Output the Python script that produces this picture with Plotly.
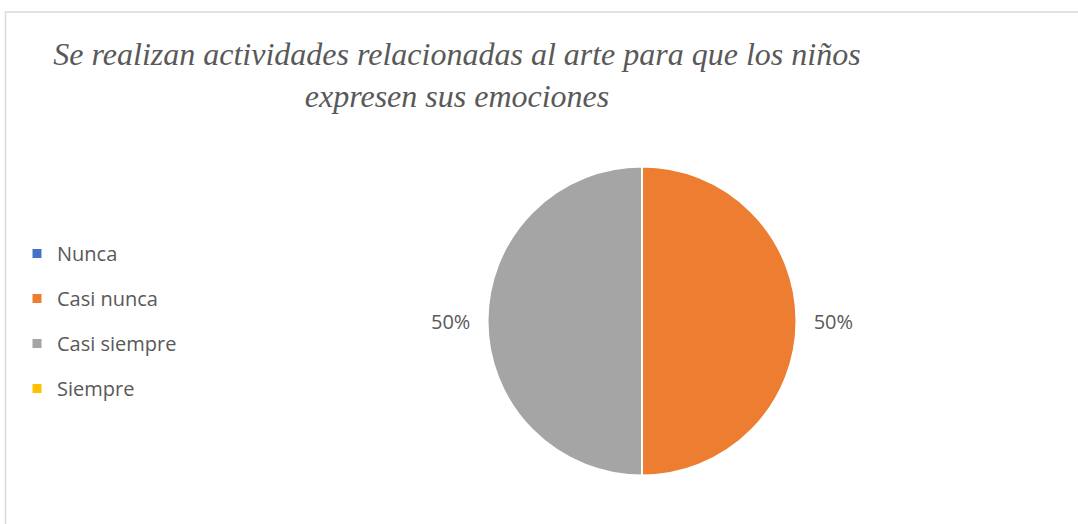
import plotly.graph_objects as go

categories = ["Nunca", "Casi nunca", "Casi siempre", "Siempre"]
values = [0, 50, 50, 0]
colors = ["#4472C4", "#ED7D31", "#A5A5A5", "#FFC000"]
title_text = ("Se realizan actividades relacionadas al arte para que los niños"
              "<br>expresen sus emociones")

W, H = 1078, 524
total = sum(values)
pad = "\u00a0\u00a0"
# percent labels; zero slices get no label, padding keeps labels off the pie edge
labels_text = []
for i, v in enumerate(values):
    if not v:
        labels_text.append("")
    else:
        pct = f"{v / total:.0%}"
        labels_text.append(pad + pct if i == 1 else pct + pad)

fig = go.Figure()

fig.add_trace(go.Pie(
    labels=categories,
    values=values,
    text=labels_text,
    textinfo="text",
    textposition="outside",
    sort=False,
    direction="clockwise",
    rotation=0,
    marker=dict(colors=colors, line=dict(color="white", width=2)),
    textfont=dict(family="Open Sans", size=20, color="#595959"),
    showlegend=False,
    domain=dict(x=[(642 - 154.5) / W, (642 + 154.5) / W],
                y=[(203 - 154.5) / H, (203 + 154.5) / H]),
    hoverinfo="label+percent",
))

# legend entries, one per category
for i, (cat, col) in enumerate(zip(categories, colors)):
    fig.add_trace(go.Scatter(
        x=[None], y=[None], mode="markers", name=cat,
        legendgroup=f"g{i}",
        marker=dict(symbol="square", size=9, color=col),
        hoverinfo="skip",
    ))

fig.update_layout(
    width=W, height=H,
    margin=dict(l=0, r=0, t=0, b=0),
    paper_bgcolor="white",
    plot_bgcolor="white",
    xaxis=dict(visible=False),
    yaxis=dict(visible=False),
    title=dict(
        text=title_text,
        x=457 / W, xanchor="center",
        y=1 - 65 / H, yanchor="top",
        font=dict(family="Liberation Serif", size=32, color="#595959", style="italic"),
    ),
    legend=dict(
        x=17 / W, xanchor="left",
        y=1 - 234 / H, yanchor="top",
        font=dict(family="Open Sans", size=20, color="#595959"),
        tracegroupgap=16,
        bgcolor="rgba(0,0,0,0)",
    ),
    shapes=[dict(
        type="rect", xref="paper", yref="paper",
        x0=5.5 / W, x1=1.05, y0=-0.05, y1=1 - 12 / H,
        line=dict(color="#D9D9D9", width=1.5),
        fillcolor="rgba(0,0,0,0)",
        layer="below",
    )],
)

fig.write_html("out.html", config={"displayModeBar": False},
               post_script="document.body.style.margin='0';")
